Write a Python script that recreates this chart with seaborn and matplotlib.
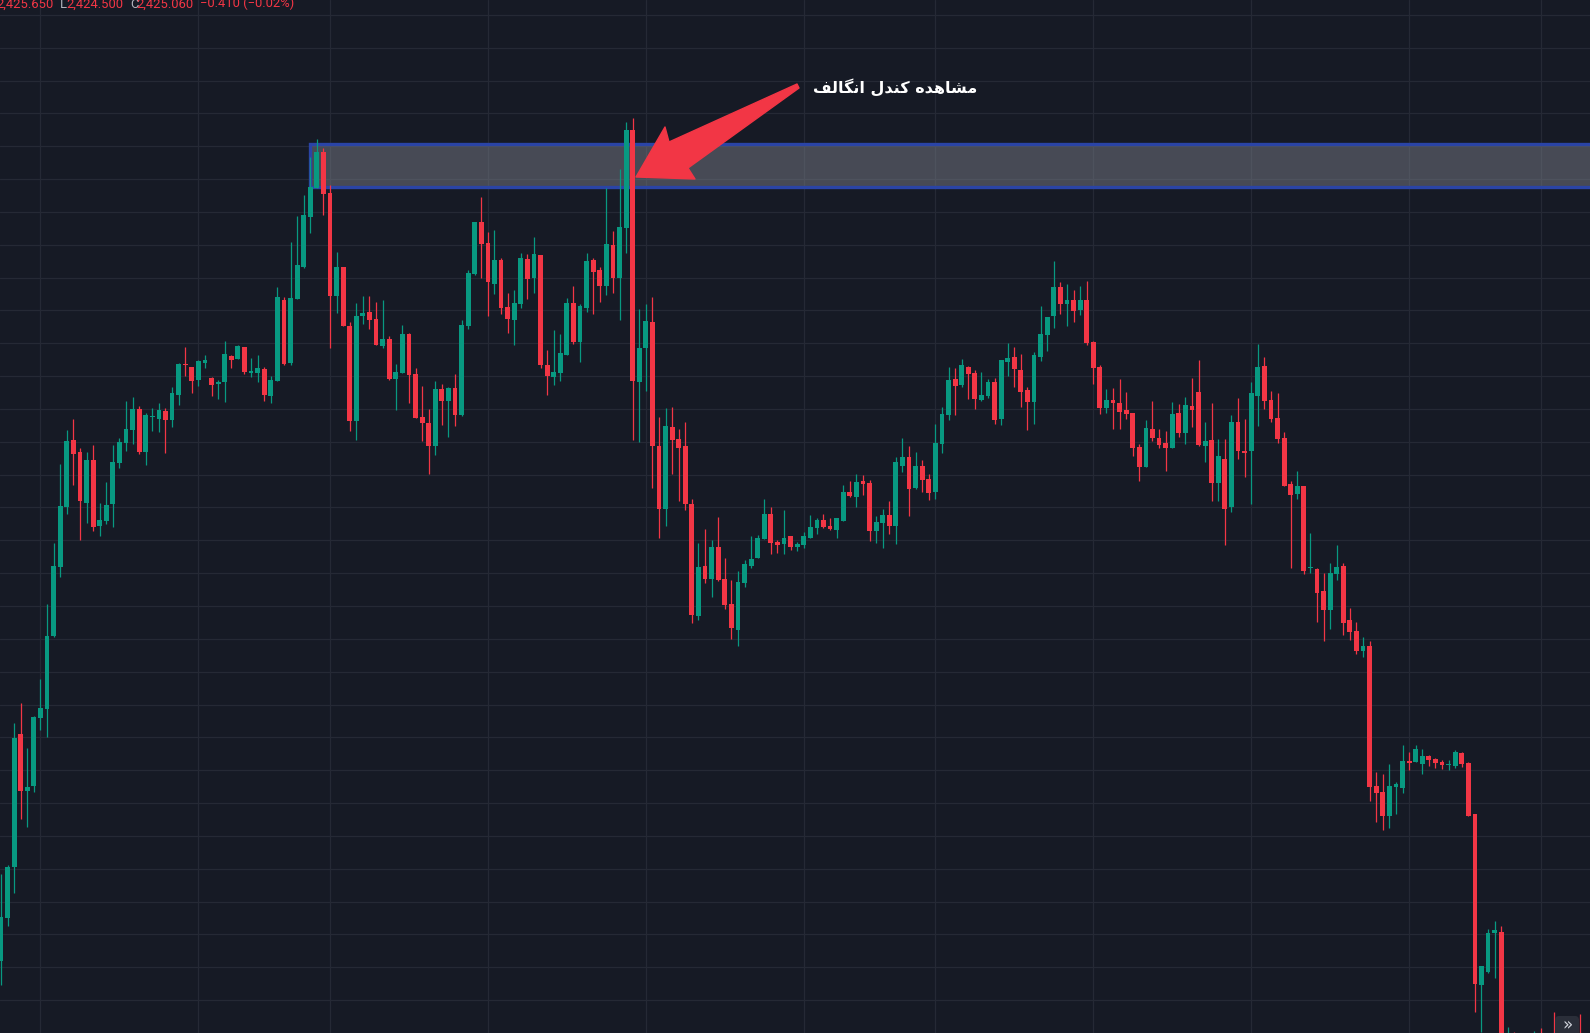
import numpy as np
import pandas as pd
import matplotlib
matplotlib.use("Agg")
import matplotlib.pyplot as plt
from matplotlib.patches import Polygon, Rectangle, FancyBboxPatch
from matplotlib.transforms import IdentityTransform
import seaborn as sns

# one candle per bar (price units)
opens = [
    2402.75, 2407.1, 2412.2, 2425.7, 2419.9, 2420.4, 2427.3, 2428.2, 2435.6, 2442.6,
    2448.7, 2455.5, 2454.2, 2449.1, 2453.4, 2446.8, 2447.3, 2449.0, 2453.1, 2455.2,
    2456.5, 2458.6, 2454.2, 2457.75, 2457.6, 2458.4, 2457.5, 2460.0, 2463.1, 2462.8,
    2461.5, 2463.3, 2461.7, 2461.1, 2461.3, 2464.0, 2463.7, 2464.9, 2462.2, 2462.2,
    2462.6, 2459.9, 2461.4, 2469.6, 2463.3, 2469.7, 2473.0, 2478.0, 2481.0, 2484.6,
    2480.5, 2470.0, 2473.0, 2467.0, 2457.4, 2468.0, 2468.4, 2467.7, 2465.0, 2465.7,
    2461.6, 2462.2, 2466.2, 2462.1, 2457.8, 2457.2, 2454.8, 2460.6, 2459.4, 2460.7,
    2458.0, 2467.0, 2472.3, 2477.5, 2475.4, 2471.3, 2473.7, 2468.9, 2467.6, 2469.2,
    2473.8, 2471.85, 2474.2, 2463.0, 2461.8, 2462.2, 2464.1, 2469.3, 2465.4, 2468.8,
    2473.7, 2472.7, 2471.0, 2475.2, 2471.9, 2476.9, 2486.8, 2461.35, 2464.8, 2467.4,
    2454.9, 2448.5, 2456.8, 2455.6, 2454.8, 2449.0, 2437.6, 2442.7, 2441.4, 2444.6,
    2441.4, 2438.9, 2436.2, 2441.0, 2442.7, 2443.5, 2445.4, 2448.0, 2445.1, 2444.9,
    2445.7, 2444.6, 2444.8, 2445.5, 2446.5, 2447.4, 2446.8, 2446.3, 2447.3, 2450.2,
    2449.7, 2451.3, 2451.1, 2446.2, 2447.1, 2447.9, 2446.8, 2452.8, 2453.7, 2450.6,
    2452.8, 2451.5, 2450.2, 2455.1, 2458.0, 2461.6, 2461.0, 2462.8, 2462.2, 2459.5,
    2459.9, 2461.3, 2457.6, 2463.4, 2463.9, 2462.5, 2460.5, 2459.3, 2463.9, 2466.1,
    2468.0, 2470.9, 2469.2, 2469.6, 2468.6, 2469.6, 2465.4, 2462.8, 2458.7, 2459.5,
    2459.2, 2458.5, 2458.2, 2454.7, 2452.7, 2456.6, 2455.7, 2455.2, 2454.6, 2458.2,
    2456.2, 2458.9, 2460.3, 2454.9, 2455.5, 2451.1, 2453.5, 2448.7, 2457.3, 2454.3,
    2454.3, 2459.9, 2462.9, 2459.5, 2457.7, 2455.7, 2451.0, 2450.0, 2450.8, 2442.45,
    2442.4, 2440.2, 2438.2, 2441.9, 2442.7, 2437.2, 2436.1, 2434.1, 2434.6, 2420.4,
    2419.8, 2417.4, 2420.3, 2420.2, 2423.0, 2422.9, 2422.7, 2423.5, 2423.2, 2422.9,
    2422.55, 2422.5, 2423.8, 2422.8, 2417.6, 2400.3, 2401.6, 2405.5, 2405.7, 2393.8,
    2395.0, 2392.8, 2394.2, 2393.4, 2395.1, 2394.0, 2394.6, 2394.0, 2395.2, 2394.4,
    2395.0, 2393.8,
]
highs = [
    2411.55, 2412.4, 2426.8, 2428.8, 2424.3, 2427.5, 2431.3, 2438.9, 2445.0, 2453.0,
    2456.5, 2457.6, 2454.6, 2454.2, 2455.0, 2449.1, 2451.2, 2455.0, 2455.64, 2459.4,
    2459.8, 2458.9, 2458.14, 2458.7, 2459.2, 2458.7, 2460.8, 2463.3, 2464.9, 2462.8,
    2463.6, 2464.1, 2461.8, 2461.5, 2465.5, 2464.1, 2465.1, 2464.9, 2463.8, 2464.1,
    2462.8, 2461.9, 2470.9, 2469.9, 2475.5, 2478.1, 2480.3, 2484.1, 2485.9, 2485.0,
    2481.3, 2474.5, 2473.0, 2467.4, 2469.3, 2470.0, 2470.0, 2469.4, 2469.6, 2466.0,
    2463.2, 2467.1, 2466.3, 2462.7, 2460.9, 2458.6, 2461.4, 2461.1, 2460.8, 2462.1,
    2467.6, 2472.7, 2477.5, 2480.1, 2476.5, 2476.7, 2473.9, 2470.3, 2470.6, 2474.4,
    2474.3, 2476.0, 2474.2, 2464.6, 2466.6, 2466.2, 2469.8, 2471.0, 2469.2, 2474.4,
    2473.85, 2472.95, 2481.0, 2476.6, 2482.9, 2487.7, 2488.1, 2468.7, 2469.2, 2469.9,
    2457.8, 2458.7, 2458.8, 2456.6, 2457.25, 2449.5, 2445.0, 2446.44, 2445.3, 2447.7,
    2443.5, 2441.3, 2442.2, 2443.3, 2445.7, 2445.8, 2449.5, 2448.7, 2445.3, 2448.4,
    2445.7, 2445.1, 2446.1, 2447.9, 2447.6, 2448.0, 2447.6, 2447.6, 2450.9, 2451.3,
    2452.0, 2451.9, 2451.4, 2447.8, 2448.5, 2449.3, 2453.7, 2455.7, 2454.8, 2454.2,
    2453.4, 2452.0, 2457.1, 2458.8, 2462.8, 2462.7, 2463.7, 2462.9, 2462.5, 2462.3,
    2461.6, 2461.7, 2463.6, 2465.3, 2464.9, 2464.2, 2460.8, 2464.4, 2469.0, 2467.9,
    2473.6, 2471.5, 2471.2, 2470.6, 2471.0, 2471.6, 2465.5, 2463.1, 2460.6, 2460.7,
    2461.6, 2460.3, 2458.2, 2455.1, 2457.5, 2459.4, 2456.6, 2456.4, 2459.3, 2459.1,
    2459.8, 2461.7, 2463.6, 2457.3, 2459.2, 2455.6, 2455.6, 2458.0, 2459.7, 2457.6,
    2461.3, 2465.2, 2463.9, 2460.4, 2460.2, 2456.3, 2451.3, 2452.3, 2450.8, 2446.0,
    2442.5, 2442.0, 2443.0, 2444.8, 2443.0, 2438.4, 2437.0, 2435.5, 2435.1, 2421.8,
    2421.6, 2422.7, 2420.8, 2424.6, 2423.9, 2424.6, 2424.2, 2423.6, 2423.3, 2423.1,
    2423.1, 2424.1, 2423.9, 2422.9, 2417.6, 2402.2, 2406.0, 2406.8, 2406.3, 2396.0,
    2395.5, 2395.0, 2394.8, 2395.6, 2395.9, 2395.4, 2397.6, 2396.0, 2396.2, 2395.8,
    2397.3, 2395.2,
]
lows = [
    2400.25, 2406.3, 2409.6, 2417.1, 2416.3, 2419.8, 2426.1, 2425.4, 2435.5, 2441.6,
    2448.0, 2450.9, 2445.3, 2447.1, 2446.2, 2445.75, 2447.0, 2446.6, 2452.6, 2454.3,
    2455.1, 2454.0, 2452.9, 2456.4, 2456.3, 2454.1, 2456.8, 2459.0, 2461.93, 2460.2,
    2460.9, 2462.7, 2459.9, 2459.6, 2459.3, 2462.7, 2463.7, 2462.1, 2461.8, 2461.3,
    2459.4, 2459.2, 2461.4, 2463.1, 2463.0, 2469.7, 2472.9, 2476.4, 2481.0, 2478.2,
    2464.8, 2468.3, 2467.0, 2456.4, 2455.5, 2467.2, 2466.7, 2465.1, 2464.8, 2461.5,
    2458.5, 2462.2, 2459.2, 2457.7, 2455.4, 2452.0, 2453.9, 2457.0, 2455.8, 2456.9,
    2457.9, 2466.7, 2472.2, 2471.9, 2468.0, 2470.2, 2468.2, 2466.3, 2465.1, 2468.8,
    2469.7, 2470.3, 2462.7, 2460.0, 2461.0, 2461.45, 2464.1, 2465.2, 2463.35, 2468.4,
    2468.2, 2469.44, 2470.1, 2470.3, 2467.65, 2474.4, 2455.5, 2455.3, 2460.4, 2450.6,
    2445.5, 2446.8, 2452.05, 2449.3, 2448.4, 2436.9, 2437.25, 2441.0, 2439.6, 2441.2,
    2438.3, 2435.3, 2434.6, 2440.6, 2442.5, 2443.5, 2445.4, 2443.9, 2444.0, 2443.9,
    2444.3, 2444.2, 2444.5, 2445.5, 2445.9, 2446.5, 2446.3, 2445.5, 2447.3, 2449.7,
    2448.7, 2449.9, 2445.2, 2445.0, 2444.5, 2445.9, 2444.9, 2452.2, 2447.8, 2450.5,
    2450.2, 2449.4, 2449.5, 2454.1, 2457.5, 2458.0, 2460.8, 2459.6, 2458.6, 2459.4,
    2459.7, 2457.1, 2457.0, 2461.9, 2460.8, 2458.8, 2456.5, 2457.1, 2463.5, 2464.5,
    2466.8, 2468.2, 2467.0, 2467.4, 2468.1, 2465.1, 2461.1, 2458.1, 2458.2, 2456.6,
    2456.6, 2457.6, 2453.8, 2451.3, 2452.7, 2455.4, 2454.6, 2452.3, 2454.6, 2455.8,
    2455.1, 2456.8, 2454.8, 2453.2, 2449.3, 2449.3, 2444.8, 2448.2, 2453.5, 2451.7,
    2449.0, 2456.9, 2458.6, 2457.3, 2455.2, 2450.8, 2442.5, 2449.5, 2441.9, 2442.0,
    2437.0, 2435.1, 2436.3, 2441.3, 2435.7, 2435.2, 2433.8, 2433.5, 2418.9, 2416.8,
    2416.0, 2416.2, 2417.6, 2419.7, 2422.0, 2422.9, 2421.6, 2422.5, 2422.3, 2422.2,
    2422.0, 2422.3, 2422.4, 2417.4, 2397.6, 2395.5, 2401.5, 2401.0, 2393.0, 2392.5,
    2392.0, 2391.5, 2392.5, 2393.0, 2393.2, 2393.4, 2393.0, 2393.4, 2393.8, 2393.6,
    2393.0, 2393.0,
]
closes = [
    2407.2, 2412.2, 2425.3, 2419.9, 2420.3, 2427.4, 2428.3, 2435.6, 2442.7, 2448.8,
    2455.4, 2454.0, 2449.3, 2453.4, 2446.7, 2447.4, 2448.9, 2453.2, 2455.3, 2456.6,
    2458.6, 2454.2, 2458.0, 2457.8, 2458.5, 2457.5, 2460.2, 2463.2, 2463.05, 2461.4,
    2463.5, 2463.6, 2461.0, 2461.3, 2464.2, 2463.6, 2465.0, 2462.3, 2462.4, 2462.7,
    2460.0, 2461.5, 2469.9, 2463.2, 2469.8, 2473.2, 2478.2, 2481.1, 2484.6, 2480.4,
    2470.0, 2473.0, 2467.0, 2457.4, 2468.0, 2468.3, 2467.6, 2465.1, 2465.7, 2461.6,
    2462.3, 2466.2, 2462.0, 2457.7, 2457.2, 2454.8, 2460.6, 2459.4, 2460.7, 2458.0,
    2467.1, 2472.4, 2477.5, 2475.3, 2471.5, 2473.7, 2468.8, 2467.7, 2469.3, 2473.9,
    2471.8, 2474.3, 2463.0, 2461.9, 2462.3, 2464.3, 2469.3, 2465.4, 2469.0, 2473.6,
    2472.5, 2471.0, 2475.3, 2471.9, 2477.0, 2486.8, 2461.45, 2464.8, 2467.5, 2454.9,
    2448.5, 2456.9, 2455.5, 2454.6, 2448.95, 2437.7, 2442.6, 2441.4, 2444.6, 2441.3,
    2438.8, 2436.4, 2441.1, 2442.9, 2443.4, 2445.5, 2448.0, 2445.0, 2444.8, 2445.5,
    2444.6, 2444.9, 2445.7, 2446.7, 2447.4, 2446.7, 2446.4, 2447.6, 2450.2, 2449.8,
    2451.2, 2451.0, 2446.2, 2447.2, 2447.9, 2446.8, 2453.2, 2453.7, 2450.5, 2452.8,
    2451.4, 2450.1, 2455.2, 2458.1, 2461.5, 2460.9, 2463.0, 2462.1, 2459.6, 2460.0,
    2461.3, 2457.5, 2463.6, 2463.8, 2462.6, 2460.3, 2459.3, 2464.1, 2466.2, 2467.9,
    2470.9, 2469.2, 2469.6, 2468.5, 2469.6, 2465.3, 2462.7, 2458.7, 2459.5, 2459.2,
    2458.3, 2458.1, 2454.6, 2452.7, 2456.7, 2455.7, 2455.0, 2454.6, 2458.1, 2456.2,
    2459.0, 2458.5, 2455.0, 2455.4, 2451.1, 2453.8, 2448.5, 2457.3, 2454.3, 2454.1,
    2460.2, 2462.8, 2459.4, 2457.6, 2455.6, 2450.8, 2449.9, 2450.8, 2442.2, 2442.5,
    2440.0, 2438.2, 2442.0, 2442.6, 2436.9, 2436.0, 2434.1, 2434.6, 2420.3, 2419.7,
    2417.4, 2420.4, 2420.6, 2423.0, 2422.8, 2424.2, 2423.5, 2423.1, 2422.8, 2422.6,
    2422.6, 2423.9, 2422.7, 2417.4, 2400.4, 2402.2, 2405.5, 2405.9, 2393.8, 2395.0,
    2392.8, 2394.2, 2393.4, 2395.1, 2394.0, 2394.6, 2394.0, 2395.2, 2394.4, 2395.0,
    2393.8, 2394.5,
]

# session separators (candle index) and the marked supply zone
time_ticks = [6, 30, 50, 74, 98, 122, 142, 166, 190, 214, 234]
zone_start = 47
zone_top = 2485.45
zone_bottom = 2481.05

header_labels = ["", "L", "C", ""]
header_values = ["2,425.650", "2,424.500", "2,425.060", "\u22120.410 (\u22120.02%)"]
note = "مشاهده کندل انگالف"

W, H = 1590, 1033
BG = "#161a25"
GRID = "#252935"
UP = "#089981"
DOWN = "#f23645"
STEP = 6.58  # px per candle

sns.set_theme(style="dark", rc={"axes.facecolor": BG, "figure.facecolor": BG})
plt.rcParams["font.family"] = ["DejaVu Sans"]

df = pd.DataFrame({"open": opens, "high": highs, "low": lows, "close": closes})
df["color"] = np.where(df["close"] >= df["open"], UP, DOWN)
df["body_lo"] = df[["open", "close"]].min(axis=1)
df["body_h"] = (df["close"] - df["open"]).abs().clip(lower=0.1)

fig = plt.figure(figsize=(W / 100, H / 100), dpi=100)
ax = fig.add_axes([0, 0, 1, 1])
ax.set_xlim(-1 / STEP, (W - 1) / STEP)
ax.set_ylim(2500 - H / 10, 2500)

ax.set_xticks(time_ticks)
ax.set_yticks(np.arange(2485.2 - 3.325 * 27, 2500, 3.325))
ax.grid(True, color=GRID, linewidth=0.9)
ax.set_axisbelow(True)
ax.tick_params(length=0, labelbottom=False, labelleft=False)
sns.despine(ax=ax, left=True, bottom=True)

# zone
ax.add_patch(Rectangle((zone_start, zone_bottom), 400, zone_top - zone_bottom,
                       facecolor="#787b86", alpha=0.5, linewidth=0, zorder=1))
ax.add_patch(Rectangle((zone_start, zone_bottom), 400, zone_top - zone_bottom,
                       fill=False, edgecolor="#2a44a6", linewidth=2.4, zorder=1.5))

# candles
ax.vlines(df.index, df["low"], df["high"], colors=df["color"], linewidth=0.9, zorder=3)
ax.bar(df.index, df["body_h"], bottom=df["body_lo"], width=0.73,
       color=df["color"], linewidth=0, zorder=4)


def px(x, y):
    return (x, H - y)


ident = IdentityTransform()

# arrow pointing at the engulfing candle
arrow_pts = [(797, 84), (669, 142), (665, 127), (636, 177), (695, 179), (688, 168), (799, 88)]
fig.add_artist(Polygon([px(*p) for p in arrow_pts], closed=True, facecolor=DOWN,
                       edgecolor=DOWN, linewidth=1, joinstyle="round", transform=ident))


# persian label: shape letters by hand (matplotlib has no arabic shaping)
FORMS = {  # isolated, final, initial, medial
    "ا": ("\ufe8d", "\ufe8e", None, None),
    "د": ("\ufea9", "\ufeaa", None, None),
    "ش": ("\ufeb5", "\ufeb6", "\ufeb7", "\ufeb8"),
    "ف": ("\ufed1", "\ufed2", "\ufed3", "\ufed4"),
    "ل": ("\ufedd", "\ufede", "\ufedf", "\ufee0"),
    "م": ("\ufee1", "\ufee2", "\ufee3", "\ufee4"),
    "ن": ("\ufee5", "\ufee6", "\ufee7", "\ufee8"),
    "ه": ("\ufee9", "\ufeea", "\ufeeb", "\ufeec"),
    "ک": ("\ufb8e", "\ufb8f", "\ufb90", "\ufb91"),
    "گ": ("\ufb92", "\ufb93", "\ufb94", "\ufb95"),
}


def shape(word):
    out = []
    for k, ch in enumerate(word):
        prev = word[k - 1] if k > 0 else None
        nxt = word[k + 1] if k + 1 < len(word) else None
        jp = prev is not None and FORMS[prev][2] is not None
        jn = nxt is not None and FORMS[ch][2] is not None
        iso, fin, ini, med = FORMS[ch]
        out.append(med if jp and jn else fin if jp else ini if jn else iso)
    return "".join(reversed(out))


visual = " ".join(shape(w) for w in reversed(note.split()))
fig.text(895 / W, 1 - 87 / H, visual, color="white", fontsize=11.5, fontweight="bold",
         ha="center", va="center")

# header (ohlc readout, partly cut off as in the screenshot)
hx = [(-4, None), (60, 66), (130, 136), (200, None)]
for (lx, vx), lab, val in zip(hx, header_labels, header_values):
    if lab:
        fig.text(lx / W, 1 - 7.5 / H, lab, color="#b2b5be", fontsize=9.4,
                 family="Roboto", va="baseline")
        fig.text(vx / W, 1 - 7.5 / H, val, color=DOWN, fontsize=9.4,
                 family="Roboto", va="baseline")
    else:
        fig.text(lx / W, 1 - 7.5 / H, val, color=DOWN, fontsize=9.4,
                 family="Roboto", va="baseline")

# scroll button bottom right
fig.add_artist(FancyBboxPatch(px(1555, 1040), 24, 24,
                              boxstyle="round,pad=0,rounding_size=4",
                              facecolor="#2a2e39", edgecolor="none", transform=ident))
fig.text(1567 / W, 1 - 1025 / H, "»", color="#d1d4dc", fontsize=12,
         ha="center", va="center")

fig.savefig("out.png", dpi=100, facecolor=BG)
